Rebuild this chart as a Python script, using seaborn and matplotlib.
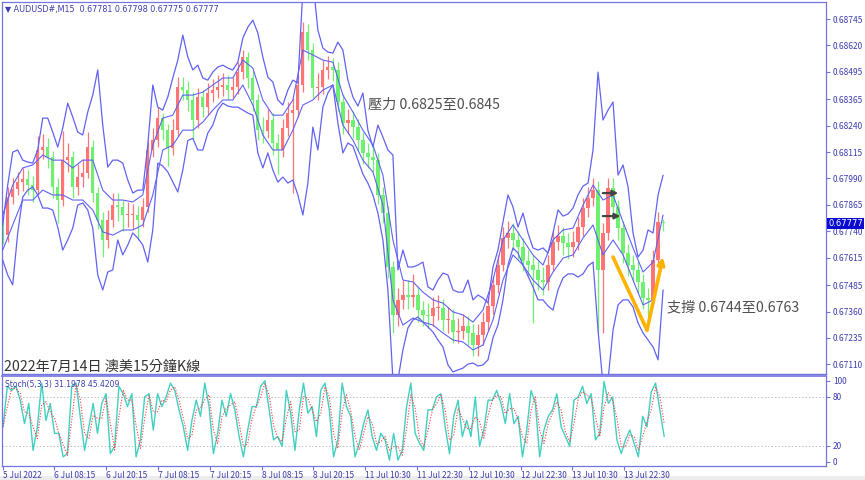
import matplotlib
matplotlib.use("Agg")
import matplotlib.pyplot as plt
from matplotlib.patches import Rectangle
import numpy as np
import pandas as pd
import seaborn as sns

# AUDUSD M15, one sample per hour (4 bars)
first_open = 0.67760
close = [0.67722, 0.67902, 0.67940, 0.67973, 0.67987, 0.67959, 0.67935, 0.68125, 0.68139, 0.68092,
         0.67950, 0.67888, 0.68077, 0.68092, 0.67950, 0.67997, 0.68016, 0.68139, 0.67921, 0.67793,
         0.67699, 0.67793, 0.67864, 0.67855, 0.67817, 0.67817, 0.67817, 0.67793, 0.67855, 0.68125,
         0.68172, 0.68276, 0.68219, 0.68134, 0.68219, 0.68423, 0.68409, 0.68362, 0.68267, 0.68376,
         0.68328, 0.68395, 0.68409, 0.68423, 0.68433, 0.68409, 0.68423, 0.68494, 0.68565, 0.68466,
         0.68362, 0.68219, 0.68215, 0.68267, 0.68158, 0.68125, 0.68229, 0.68300, 0.68314, 0.68433,
         0.68684, 0.68598, 0.68418, 0.68423, 0.68504, 0.68518, 0.68504, 0.68352, 0.68253, 0.68267,
         0.68234, 0.68172, 0.68111, 0.68092, 0.68077, 0.67912, 0.67826, 0.67571, 0.67344, 0.67415,
         0.67438, 0.67429, 0.67438, 0.67367, 0.67344, 0.67339, 0.67377, 0.67377, 0.67320, 0.67320,
         0.67263, 0.67268, 0.67291, 0.67258, 0.67201, 0.67249, 0.67310, 0.67386, 0.67486, 0.67580,
         0.67708, 0.67732, 0.67699, 0.67665, 0.67599, 0.67580, 0.67557, 0.67509, 0.67500, 0.67580,
         0.67689, 0.67718, 0.67684, 0.67665, 0.67689, 0.67760, 0.67850, 0.67897, 0.67935, 0.67557,
         0.67732, 0.67945, 0.67855, 0.67755, 0.67637, 0.67580, 0.67557, 0.67500, 0.67424, 0.67415,
         0.67604, 0.67784, 0.67777]
high = [0.67800, 0.67950, 0.67990, 0.68020, 0.68040, 0.68030, 0.68000, 0.68190, 0.68200, 0.68180,
        0.68120, 0.67990, 0.68215, 0.68160, 0.68120, 0.68060, 0.68080, 0.68210, 0.68170, 0.67950,
        0.67830, 0.67840, 0.67920, 0.67920, 0.67890, 0.67880, 0.67870, 0.67860, 0.67900, 0.68170,
        0.68230, 0.68330, 0.68300, 0.68250, 0.68270, 0.68470, 0.68470, 0.68450, 0.68400, 0.68420,
        0.68410, 0.68440, 0.68460, 0.68480, 0.68490, 0.68480, 0.68470, 0.68540, 0.68600, 0.68590,
        0.68500, 0.68390, 0.68280, 0.68320, 0.68300, 0.68200, 0.68270, 0.68350, 0.68370, 0.68480,
        0.68730, 0.68720, 0.68630, 0.68490, 0.68550, 0.68570, 0.68560, 0.68540, 0.68390, 0.68320,
        0.68310, 0.68270, 0.68210, 0.68160, 0.68140, 0.68110, 0.67950, 0.67860, 0.67600, 0.67470,
        0.67510, 0.67510, 0.67540, 0.67480, 0.67410, 0.67400, 0.67430, 0.67440, 0.67420, 0.67380,
        0.67370, 0.67330, 0.67350, 0.67340, 0.67300, 0.67300, 0.67360, 0.67430, 0.67530, 0.67630,
        0.67760, 0.67790, 0.67780, 0.67740, 0.67710, 0.67650, 0.67630, 0.67600, 0.67570, 0.67630,
        0.67740, 0.67770, 0.67760, 0.67730, 0.67740, 0.67810, 0.67900, 0.67950, 0.67990, 0.67980,
        0.67780, 0.67990, 0.67990, 0.67890, 0.67790, 0.67680, 0.67630, 0.67600, 0.67540, 0.67470,
        0.67650, 0.67830, 0.67800]
low = [0.67680, 0.67690, 0.67870, 0.67910, 0.67930, 0.67910, 0.67880, 0.67910, 0.68080, 0.68040,
       0.67900, 0.67780, 0.67860, 0.68020, 0.67900, 0.67910, 0.67950, 0.67990, 0.67880, 0.67750,
       0.67620, 0.67660, 0.67760, 0.67790, 0.67740, 0.67760, 0.67750, 0.67700, 0.67760, 0.67830,
       0.68090, 0.68140, 0.68170, 0.68050, 0.68100, 0.68190, 0.68360, 0.68310, 0.68170, 0.68230,
       0.68280, 0.68290, 0.68350, 0.68370, 0.68380, 0.68360, 0.68370, 0.68390, 0.68460, 0.68420,
       0.68310, 0.68170, 0.68160, 0.68180, 0.68100, 0.68010, 0.68090, 0.68190, 0.67920, 0.68280,
       0.68400, 0.68550, 0.68370, 0.68360, 0.68390, 0.68460, 0.68450, 0.68310, 0.68200, 0.68200,
       0.68180, 0.68120, 0.68060, 0.68040, 0.68020, 0.67870, 0.67780, 0.67520, 0.67258, 0.67290,
       0.67370, 0.67370, 0.67380, 0.67310, 0.67290, 0.67280, 0.67290, 0.67320, 0.67270, 0.67260,
       0.67210, 0.67210, 0.67230, 0.67200, 0.67150, 0.67150, 0.67200, 0.67270, 0.67350, 0.67450,
       0.67550, 0.67660, 0.67650, 0.67610, 0.67550, 0.67530, 0.67306, 0.67460, 0.67440, 0.67460,
       0.67550, 0.67650, 0.67630, 0.67610, 0.67620, 0.67650, 0.67720, 0.67810, 0.67860, 0.67258,
       0.67258, 0.67700, 0.67800, 0.67700, 0.67590, 0.67530, 0.67500, 0.67450, 0.67370, 0.67330,
       0.67390, 0.67570, 0.67740]

# wide envelope (same hourly grid)
band_upper = [0.67770, 0.67959, 0.68115, 0.68125, 0.68077, 0.68068, 0.68063, 0.68125, 0.68276, 0.68276,
              0.68210, 0.68139, 0.68229, 0.68347, 0.68281, 0.68210, 0.68196, 0.68305, 0.68385, 0.68504,
              0.68243, 0.68044, 0.68077, 0.68077, 0.68063, 0.67983, 0.67921, 0.67935, 0.67935, 0.68148,
              0.68433, 0.68328, 0.68314, 0.68376, 0.68466, 0.68551, 0.68669, 0.68565, 0.68504, 0.68527,
              0.68466, 0.68456, 0.68494, 0.68518, 0.68527, 0.68513, 0.68504, 0.68541, 0.68655, 0.68707,
              0.68740, 0.68679, 0.68565, 0.68470, 0.68447, 0.68362, 0.68338, 0.68409, 0.68456, 0.68442,
              0.68882, 0.68930, 0.68930, 0.68693, 0.68608, 0.68589, 0.68584, 0.68636, 0.68598, 0.68456,
              0.68376, 0.68333, 0.68395, 0.68219, 0.68139, 0.68243, 0.68186, 0.68125, 0.68101, 0.67557,
              0.67651, 0.67571, 0.67571, 0.67580, 0.67594, 0.67476, 0.67462, 0.67509, 0.67542, 0.67533,
              0.67462, 0.67452, 0.67452, 0.67509, 0.67415, 0.67438, 0.67424, 0.67400, 0.67571, 0.67651,
              0.67784, 0.67912, 0.67855, 0.67760, 0.67826, 0.67732, 0.67661, 0.67651, 0.67661, 0.67637,
              0.67732, 0.67841, 0.67812, 0.67822, 0.67850, 0.67912, 0.67954, 0.67968, 0.68125, 0.68494,
              0.68267, 0.68314, 0.68352, 0.68006, 0.68054, 0.67950, 0.67732, 0.67618, 0.67651, 0.67746,
              0.67732, 0.67912, 0.68006]
band_lower = [0.67604, 0.67533, 0.67486, 0.67732, 0.67902, 0.67935, 0.67950, 0.67912, 0.67850, 0.67850,
              0.67841, 0.67760, 0.67651, 0.67699, 0.67755, 0.67864, 0.67874, 0.67841, 0.67755, 0.67533,
              0.67462, 0.67547, 0.67557, 0.67699, 0.67628, 0.67675, 0.67732, 0.67708, 0.67675, 0.67594,
              0.67746, 0.68063, 0.68049, 0.68021, 0.67973, 0.67926, 0.68030, 0.68170, 0.68180, 0.68125,
              0.68125, 0.68205, 0.68243, 0.68314, 0.68347, 0.68333, 0.68328, 0.68328, 0.68314, 0.68300,
              0.68290, 0.68111, 0.68040, 0.68111, 0.68030, 0.67973, 0.67997, 0.67968, 0.67983, 0.67912,
              0.67817, 0.67968, 0.68234, 0.68125, 0.68328, 0.68395, 0.68433, 0.68253, 0.68111, 0.68158,
              0.68144, 0.68077, 0.68011, 0.67968, 0.67912, 0.67826, 0.67699, 0.67462, 0.67036, 0.67036,
              0.67178, 0.67282, 0.67320, 0.67334, 0.67310, 0.67287, 0.67263, 0.67225, 0.67192, 0.67107,
              0.67074, 0.67083, 0.67092, 0.67111, 0.67116, 0.67102, 0.67107, 0.67131, 0.67235, 0.67296,
              0.67415, 0.67580, 0.67661, 0.67637, 0.67580, 0.67528, 0.67476, 0.67415, 0.67415, 0.67386,
              0.67367, 0.67462, 0.67519, 0.67538, 0.67538, 0.67523, 0.67538, 0.67576, 0.67594, 0.67272,
              0.67012, 0.67036, 0.67272, 0.67391, 0.67415, 0.67415, 0.67381, 0.67306, 0.67258, 0.67225,
              0.67192, 0.67131, 0.67462]

# narrow envelope, one sample every two hours
inner_upper = [0.67817, 0.67959, 0.68040, 0.68054, 0.68101, 0.68077, 0.68077, 0.68040, 0.68077, 0.68077,
               0.67935, 0.67888, 0.67888, 0.67879, 0.67912, 0.68148, 0.68276, 0.68290, 0.68385, 0.68385,
               0.68399, 0.68433, 0.68466, 0.68466, 0.68551, 0.68513, 0.68362, 0.68290, 0.68290, 0.68362,
               0.68598, 0.68575, 0.68551, 0.68541, 0.68385, 0.68305, 0.68219, 0.68148, 0.68006, 0.67699,
               0.67509, 0.67500, 0.67452, 0.67415, 0.67400, 0.67358, 0.67344, 0.67310, 0.67367, 0.67509,
               0.67699, 0.67770, 0.67699, 0.67628, 0.67580, 0.67699, 0.67746, 0.67755, 0.67864, 0.67959,
               0.67888, 0.67912, 0.67784, 0.67661, 0.67547, 0.67594, 0.67817]
inner_lower = [0.67651, 0.67770, 0.67888, 0.67888, 0.67935, 0.67912, 0.67912, 0.67888, 0.67888, 0.67841,
               0.67737, 0.67722, 0.67746, 0.67746, 0.67770, 0.67912, 0.68125, 0.68148, 0.68219, 0.68219,
               0.68257, 0.68314, 0.68362, 0.68362, 0.68433, 0.68338, 0.68196, 0.68125, 0.68125, 0.68219,
               0.68338, 0.68362, 0.68409, 0.68433, 0.68243, 0.68172, 0.68077, 0.68021, 0.67864, 0.67415,
               0.67296, 0.67329, 0.67310, 0.67296, 0.67258, 0.67225, 0.67216, 0.67178, 0.67201, 0.67320,
               0.67509, 0.67628, 0.67580, 0.67509, 0.67462, 0.67547, 0.67613, 0.67628, 0.67708, 0.67770,
               0.67628, 0.67699, 0.67628, 0.67509, 0.67391, 0.67415, 0.67594]

# Stoch(5,3,3) main line
stoch_k = [43, 93, 88, 93, 76, 47, 72, 14, 43, 97,
           51, 72, 35, 35, 6, 10, 93, 97, 56, 14,
           43, 72, 35, 72, 84, 10, 19, 93, 84, 68,
           84, 6, 27, 80, 84, 39, 84, 68, 80, 97,
           88, 64, 43, 14, 51, 76, 56, 97, 68, 10,
           35, 76, 56, 84, 64, 31, 6, 39, 68, 68,
           93, 100, 64, 27, 31, 19, 88, 60, 14, 64,
           97, 60, 68, 31, 88, 97, 64, 6, 27, 97,
           68, 56, 6, 23, 47, 64, 31, 14, 35, 27,
           2, 35, 2, 14, 68, 97, 35, 23, 14, 64,
           64, 80, 84, 43, 10, 56, 76, 31, 51, 31,
           80, 19, 39, 76, 76, 88, 72, 47, 84, 47,
           56, 6, 39, 88, 72, 6, 39, 56, 64, 84,
           43, 31, 19, 76, 80, 93, 72, 84, 27, 35,
           99, 72, 80, 27, 10, 27, 39, 23, 6, 56,
           43, 86, 97, 64, 31.2]

price_ticks = [0.68745, 0.68620, 0.68495, 0.68365, 0.68240, 0.68115, 0.67990,
               0.67865, 0.67740, 0.67615, 0.67485, 0.67360, 0.67235, 0.67110]
date_labels = ["5 Jul 2022", "6 Jul 08:15", "6 Jul 20:15", "7 Jul 08:15", "7 Jul 20:15",
               "8 Jul 08:15", "8 Jul 20:15", "11 Jul 10:30", "11 Jul 22:30", "12 Jul 10:30",
               "12 Jul 22:30", "13 Jul 10:30", "13 Jul 22:30"]
last_price = 0.67777
last_bar = 612
bars_per_label = 48

sns.set_style("white")
plt.rcParams['font.family'] = ['Noto Sans CJK TC', 'DejaVu Sans']

axis_blue = '#7474e0'
label_blue = '#3c3cb0'
band_blue = '#6262f4'

fig = plt.figure(figsize=(8.65, 4.8), dpi=100)
ax = fig.add_axes([2 / 865, 1 - 374 / 480, 824 / 865, 372 / 480])
ax2 = fig.add_axes([2 / 865, 1 - 466 / 480, 824 / 865, 90 / 480], sharex=ax)
fig.patches.append(Rectangle((0, 0), 1, 4 / 480, transform=fig.transFigure,
                             facecolor='#ececec', edgecolor='none', zorder=-5))

# candles
c = np.array(close)
o = np.r_[first_open, c[:-1]]
h = np.maximum(np.array(high), np.maximum(o, c))
lo = np.minimum(np.array(low), np.minimum(o, c))
t = np.linspace(0, last_bar, len(c))
cols = np.where(c >= o, '#ff7474', '#70f070')
ax.vlines(t, lo, h, colors=cols, linewidth=0.9, zorder=2)
ax.bar(t, np.maximum(np.abs(c - o), 0.00003), bottom=np.minimum(o, c), width=3.0,
       color=cols, linewidth=0, zorder=2)

# envelopes
tb = np.linspace(0, last_bar, len(band_upper))
sns.lineplot(x=tb, y=band_upper, ax=ax, color=band_blue, linewidth=0.9, zorder=3)
sns.lineplot(x=np.linspace(0, last_bar, len(band_lower)), y=band_lower, ax=ax,
             color=band_blue, linewidth=0.9, zorder=3)
ti = np.linspace(0, last_bar, len(inner_upper))
sns.lineplot(x=ti, y=inner_upper, ax=ax, color=band_blue, linewidth=0.8, zorder=3)
sns.lineplot(x=np.linspace(0, last_bar, len(inner_lower)), y=inner_lower, ax=ax,
             color=band_blue, linewidth=0.8, zorder=3)

ax.set_xlim(-0.65, 763)
ax.set_ylim(0.67064, 0.68826)
ax.yaxis.tick_right()
ax.set_yticks(price_ticks)
ax.set_yticklabels([f"{p:.5f}" for p in price_ticks])
ax.tick_params(axis='y', right=True, direction='out', length=3, width=0.8,
               color=axis_blue, labelsize=6, labelcolor=label_blue, pad=2)
ax.tick_params(axis='x', bottom=False, labelbottom=False)
for s in ax.spines.values():
    s.set_color(axis_blue)
    s.set_linewidth(0.9)
ax.spines['bottom'].set_linewidth(1.0)
ax.set_xlabel("")
ax.set_ylabel("")

ax.text(1.003, last_price, f"{last_price:.5f}", transform=ax.get_yaxis_transform(),
        fontsize=6, color='white', va='center', ha='left', family='DejaVu Sans',
        bbox=dict(boxstyle='square,pad=0.12', fc='#0a0ad0', ec='none'), zorder=6)

ax.text(0.004, 0.992, "\u25bc AUDUSD#,M15  0.67781 0.67798 0.67775 0.67777", transform=ax.transAxes,
        fontsize=5.8, color=label_blue, va='top', ha='left', family=['DejaVu Sans'])

# annotations
ax.text(338.5, 0.68338, "壓力 0.6825至0.6845", fontsize=10.2, color='#505050', va='center', ha='left')
ax.text(615.6, 0.67381, "支撐 0.6744至0.6763", fontsize=10.2, color='#505050', va='center', ha='left')
ax.text(1.2, 0.67100, "2022年7月14日 澳美15分鐘K線", fontsize=10.2, color='#333333',
        va='center', ha='left', zorder=7)

for y_arrow, x_end in [(0.67921, 573), (0.67812, 575)]:
    ax.annotate("", xy=(x_end, y_arrow), xytext=(553.6, y_arrow),
                arrowprops=dict(arrowstyle='-|>', color='#444444', lw=1.6, mutation_scale=8),
                zorder=6)

v_x = [565.6, 597.1]
v_y = [0.67618, 0.67272]
ax.plot(v_x, v_y, color='#ffb300', linewidth=2.6, solid_capstyle='round', zorder=6)
ax.annotate("", xy=(611.9, 0.67618), xytext=(597.1, 0.67272),
            arrowprops=dict(arrowstyle='-|>', color='#ffb300', lw=2.6, mutation_scale=10,
                            shrinkA=0, shrinkB=0), zorder=6)

# stochastic panel
k = pd.Series(stoch_k, dtype=float)
d = k.rolling(2, min_periods=1).mean()
ts = np.linspace(0.3, 613, len(k))
ax2.axhline(80, color='#c0c0c0', linestyle=(0, (1.5, 2)), linewidth=0.7)
ax2.axhline(20, color='#c0c0c0', linestyle=(0, (1.5, 2)), linewidth=0.7)
sns.lineplot(x=ts, y=k.values, ax=ax2, color='#3fd0c0', linewidth=1.0)
sns.lineplot(x=ts, y=d.values, ax=ax2, color='#ff3a3a', linewidth=0.8, linestyle=(0, (1, 1.5)))
ax2.set_ylim(-5.3, 105.8)
ax2.yaxis.tick_right()
ax2.set_yticks([0, 20, 80, 100])
ax2.tick_params(axis='y', right=True, direction='out', length=3, width=0.8,
                color=axis_blue, labelsize=6, labelcolor=label_blue, pad=2)
ax2.set_xticks([i * bars_per_label for i in range(len(date_labels))])
ax2.set_xticklabels(date_labels, ha='left')
ax2.tick_params(axis='x', bottom=True, direction='out', length=3, width=0.8,
                color=axis_blue, labelsize=6, labelcolor=label_blue, pad=0.5)
for s in ax2.spines.values():
    s.set_color(axis_blue)
    s.set_linewidth(0.9)
ax2.spines['top'].set_linewidth(1.2)
ax2.set_xlabel("")
ax2.set_ylabel("")
ax2.text(0.004, 0.95, "Stoch(5,3,3) 31.1978 45.4209", transform=ax2.transAxes,
         fontsize=5.5, color=label_blue, va='top', ha='left', family=['DejaVu Sans'])

fig.savefig("out.png", dpi=100)
